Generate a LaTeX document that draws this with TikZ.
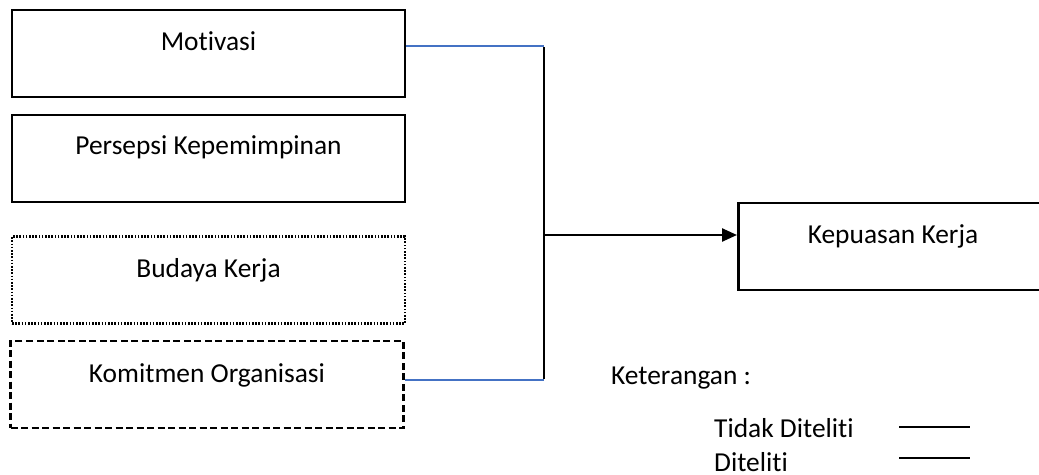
\documentclass[tikz,border=0pt]{standalone}
\usepackage{fontspec}
\setmainfont[RawFeature=-liga]{Carlito}
\usetikzlibrary{arrows.meta}
\definecolor{wordblue}{RGB}{68,114,196}
\tikzset{
  box/.style={draw=black, line width=2.6pt, minimum width=393pt, minimum height=87pt, inner sep=0pt},
  lbl/.style={font=\fontsize{27.4}{32}\selectfont, inner sep=0pt, anchor=base},
  link/.style={draw=wordblue, line width=2.2pt},
  trunk/.style={draw=black, line width=2.4pt},
  legline/.style={draw=black, line width=1.8pt}
}
\begin{document}
\begin{tikzpicture}[x=1pt,y=-1pt]
\useasboundingbox (0,0) rectangle (1039,474);
\clip (0,0) rectangle (1039,474);
% boxes
\node[box] (mot) at (208.5,53.5) {};
\node[box] (per) at (208.5,158.5) {};
\node[box, dash pattern=on 1.6pt off 1.6pt] (bud) at (208.5,280) {};
\node[box, dash pattern=on 7pt off 3.5pt] (kom) at (207,384.5) {};
\node[draw=black, line width=2.6pt, minimum width=320pt, minimum height=87pt, inner sep=0pt, anchor=west] (kep) at (737,246.5) {};
% labels
\node[lbl] (tmot) at (208.5,50) {Motivasi};
\node[lbl] (tper) at (208.5,154) {Persepsi Kepemimpinan};
\node[lbl] (tbud) at (208.5,277) {Budaya Kerja};
\node[lbl] (tkom) at (207,382) {Komitmen Organisasi};
\node[lbl] (tkep) at (893,243) {Kepuasan Kerja};
% connectors
\coordinate (jt) at (544,46);
\coordinate (jb) at (544,380);
\coordinate (jm) at (544,235);
\draw[link] (mot.east |- jt) -- (jt);
\draw[link] (kom.east |- jb) -- (jb);
\draw[trunk] ([yshift=-1pt]jt) -- ([yshift=1pt]jb);
\draw[trunk, -{Triangle[length=15pt,width=13pt]}] (jm) -- (kep.west |- jm);
% legend
\node[lbl, anchor=base west] (ket) at (611,384) {Keterangan :};
\node[lbl, anchor=base west] (tid) at (714,437) {Tidak Diteliti};
\node[lbl, anchor=base west] (dit) at (714,471) {Diteliti};
\coordinate (l1a) at (899,427);
\coordinate (l1b) at (970,427);
\coordinate (l2a) at (899,458);
\coordinate (l2b) at (970,458);
\draw[legline] (l1a) -- (l1b);
\draw[legline] (l2a) -- (l2b);
\end{tikzpicture}
\end{document}
